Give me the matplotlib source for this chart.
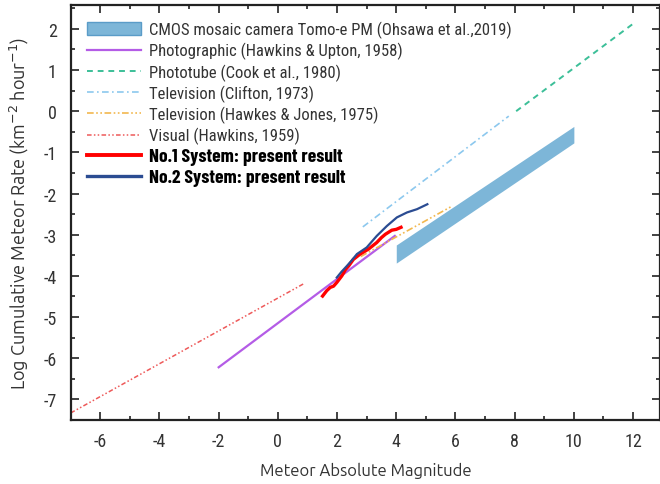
import matplotlib
matplotlib.use("Agg")
import matplotlib.pyplot as plt
from matplotlib.patches import Patch
from matplotlib.lines import Line2D
from matplotlib.ticker import MultipleLocator

# Ohsawa et al. 2019 (CMOS band), corners at M=4 and M=10
cmos_x = [4.0, 10.0]
cmos_lo = [-3.69, -0.77]
cmos_hi = [-3.25, -0.37]

photo_x = [-2.0, 3.95]
photo_y = [-6.22, -3.03]

tube_x = [8.05, 12.05]
tube_y = [0.0, 2.15]

clifton_x = [2.87, 7.8]
clifton_y = [-2.81, -0.12]

hawkes_x = [2.8, 5.9]
hawkes_y = [-3.53, -2.3]

visual_x = [-7.0, 0.9]
visual_y = [-7.33, -4.18]

sys1_x = [1.51, 1.65, 1.77, 1.88, 1.99, 2.16, 2.28, 2.39, 2.55, 2.78, 3.06, 3.34, 3.5, 3.63, 3.85, 4.0, 4.16]
sys1_y = [-4.49, -4.36, -4.28, -4.25, -4.16, -4.0, -3.85, -3.76, -3.6, -3.47, -3.35, -3.19, -3.07, -2.99, -2.89, -2.87, -2.82]

sys2_x = [1.99, 2.15, 2.33, 2.5, 2.67, 3.0, 3.34, 3.68, 4.02, 4.36, 4.7, 5.05]
sys2_y = [-4.04, -3.9, -3.76, -3.62, -3.47, -3.31, -3.03, -2.79, -2.58, -2.46, -2.38, -2.26]

labels = [
    "CMOS mosaic camera Tomo-e PM (Ohsawa et al.,2019)",
    "Photographic (Hawkins & Upton, 1958)",
    "Phototube (Cook et al., 1980)",
    "Television (Clifton, 1973)",
    "Television (Hawkes & Jones, 1975)",
    "Visual (Hawkins, 1959)",
    "No.1 System: present result",
    "No.2 System: present result",
]

c_cmos = "#7db6d8"
c_photo = "#b45ce6"
c_tube = "#3cbf98"
c_clifton = "#8cc8ee"
c_hawkes = "#f2b84f"
c_visual = "#ee5a5a"
c_sys1 = "#ff0000"
c_sys2 = "#2b4c92"

plt.rcParams["axes.unicode_minus"] = False
cond = ["Roboto Condensed", "DejaVu Sans"]
bold_cond = ["Barlow Condensed", "DejaVu Sans"]
label_font = ["Ubuntu", "DejaVu Sans"]

fig = plt.figure(figsize=(6.6, 4.85), dpi=100)
ax = fig.add_axes([0.1071, 0.132, 0.8929, 0.8557])

ax.fill_between(cmos_x, cmos_lo, cmos_hi, color=c_cmos, lw=0)
ax.plot(photo_x, photo_y, color=c_photo, lw=1.6)
ax.plot(tube_x, tube_y, color=c_tube, lw=1.4, dashes=(3, 2.5))
ax.plot(clifton_x, clifton_y, color=c_clifton, lw=1.2, dashes=(4, 2, 1, 2))
ax.plot(hawkes_x, hawkes_y, color=c_hawkes, lw=1.2, dashes=(4, 1.5, 1, 1.5, 1, 1.5))
ax.plot(visual_x, visual_y, color=c_visual, lw=1.1, dashes=(3, 1.5, 1, 1.5, 1, 1.5))
ax.plot(sys1_x, sys1_y, color=c_sys1, lw=2.4)
ax.plot(sys2_x, sys2_y, color=c_sys2, lw=1.6)

ax.set_xlim(-7, 12.91)
ax.set_ylim(-7.5, 2.58)
ax.xaxis.set_major_locator(MultipleLocator(2))
ax.xaxis.set_minor_locator(MultipleLocator(1))
ax.yaxis.set_major_locator(MultipleLocator(1))
ax.yaxis.set_minor_locator(MultipleLocator(0.5))
ax.tick_params(which="both", direction="in", top=True, right=True, color="#222222", width=1.2)
ax.tick_params(which="major", length=6, labelsize=13, labelcolor="#333333")
ax.tick_params(axis="x", which="major", pad=9)
ax.tick_params(axis="y", which="major", pad=10)
ax.tick_params(which="minor", length=3)
for lab in ax.get_xticklabels() + ax.get_yticklabels():
    lab.set_family(cond)
for sp in ax.spines.values():
    sp.set_linewidth(1.6)
    sp.set_color("#222222")

ax.set_xlabel("Meteor Absolute Magnitude", fontsize=12, color="#333333", labelpad=8,
              family=label_font)
ax.set_ylabel("Log Cumulative Meteor Rate (km$^{-2}$ hour$^{-1}$)", fontsize=13,
              color="#333333", labelpad=9, family=label_font, fontweight="medium")

handles = [
    Patch(facecolor=c_cmos, edgecolor="#5a9cc8", lw=1),
    Line2D([], [], color=c_photo, lw=1.6),
    Line2D([], [], color=c_tube, lw=1.4, dashes=(3, 2.5)),
    Line2D([], [], color=c_clifton, lw=1.2, dashes=(4, 2, 1, 2)),
    Line2D([], [], color=c_hawkes, lw=1.2, dashes=(4, 1.5, 1, 1.5, 1, 1.5)),
    Line2D([], [], color=c_visual, lw=1.1, dashes=(3, 1.5, 1, 1.5, 1, 1.5)),
    Line2D([], [], color=c_sys1, lw=2.8),
    Line2D([], [], color=c_sys2, lw=2.4),
]
leg = ax.legend(handles, labels, loc="upper left", frameon=False, fontsize=12,
                handlelength=3.25, handleheight=0.75, labelspacing=0.24,
                borderaxespad=0.55, handletextpad=0.48)
for i, t in enumerate(leg.get_texts()):
    t.set_family(cond)
    t.set_color("#333333")
    if i >= 6:
        t.set_family(bold_cond)
        t.set_fontweight("bold")
        t.set_color("black")
        t.set_fontsize(14)

fig.savefig("out.png", dpi=100)
